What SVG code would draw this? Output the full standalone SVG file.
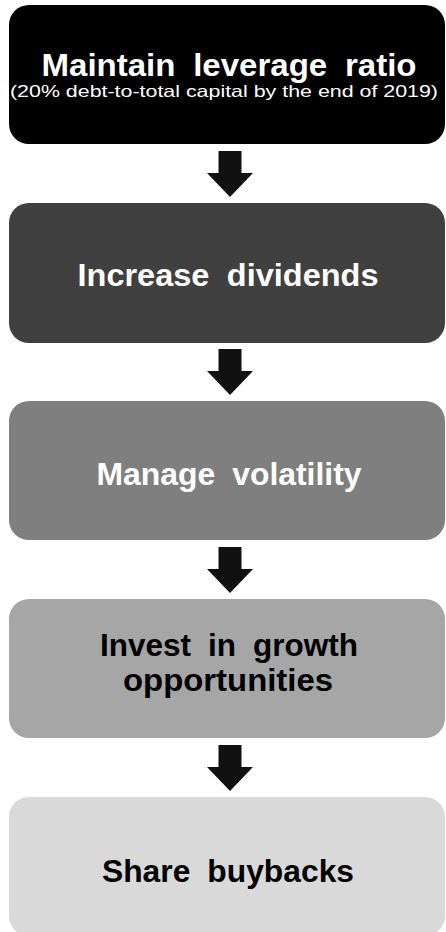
<svg xmlns="http://www.w3.org/2000/svg" width="446" height="932" viewBox="0 0 446 932">
  <style>
    .box { stroke: none; }
    .t { font-family: "Liberation Sans", Arial, sans-serif; font-weight: bold; font-size: 31px; text-anchor: middle; word-spacing: 8px; }
    .s { font-family: "Liberation Sans", Arial, sans-serif; font-size: 16.5px; text-anchor: middle; }
    .w { fill: #ffffff; }
    .k { fill: #000000; }
    .arrow { fill: #111111; }
  </style>
  <defs>
    <path id="arr" d="M -11.5 0 H 11.5 V 22 H 23 L 0 46 L -23 22 H -11.5 Z"/>
  </defs>
  <rect width="446" height="932" fill="#ffffff"/>
  <g id="connectors">
    <use href="#arr" class="arrow" x="230" y="151"/>
    <use href="#arr" class="arrow" x="230" y="349"/>
    <use href="#arr" class="arrow" x="230" y="547"/>
    <use href="#arr" class="arrow" x="230" y="745"/>
  </g>
  <g id="node1">
    <rect class="box" x="9" y="5" width="436" height="139" rx="20" fill="#000000"/>
    <text class="t w" x="229" y="76" textLength="375" lengthAdjust="spacingAndGlyphs">Maintain leverage ratio</text>
    <text class="s w" x="224" y="97" textLength="428" lengthAdjust="spacingAndGlyphs">(20% debt-to-total capital by the end of 2019)</text>
  </g>
  <g id="node2">
    <rect class="box" x="9" y="203" width="436" height="140" rx="20" fill="#404040"/>
    <text class="t w" x="228" y="286" textLength="301" lengthAdjust="spacingAndGlyphs">Increase dividends</text>
  </g>
  <g id="node3">
    <rect class="box" x="9" y="401" width="436" height="139" rx="20" fill="#7f7f7f"/>
    <text class="t w" x="229" y="485" textLength="265" lengthAdjust="spacingAndGlyphs">Manage volatility</text>
  </g>
  <g id="node4">
    <rect class="box" x="9" y="599" width="436" height="139" rx="20" fill="#a6a6a6"/>
    <text class="t k" x="229" y="656" textLength="258" lengthAdjust="spacingAndGlyphs">Invest in growth</text>
    <text class="t k" x="228" y="691" textLength="210" lengthAdjust="spacingAndGlyphs">opportunities</text>
  </g>
  <g id="node5">
    <rect class="box" x="9" y="797" width="436" height="139" rx="20" fill="#d9d9d9"/>
    <text class="t k" x="228" y="882" textLength="252" lengthAdjust="spacingAndGlyphs">Share buybacks</text>
  </g>
</svg>
